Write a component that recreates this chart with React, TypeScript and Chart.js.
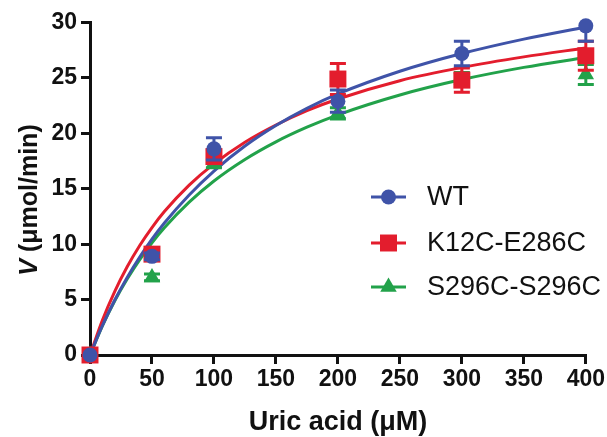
import React, { useEffect, useRef } from 'react';
import { Chart, registerables } from 'chart.js';

Chart.register(...registerables);

// Measured data (Uric acid µM vs V µmol/min)
const concentrations = [0, 50, 100, 200, 300, 400];
const wtValues = [0, 8.9, 18.6, 22.9, 27.2, 29.7];
const wtErrors = [0, 0.3, 1.0, 1.0, 1.1, 1.4];
const k12cValues = [0, 9.1, 17.9, 24.9, 24.8, 27.0];
const k12cErrors = [0, 0.3, 0.6, 1.4, 1.1, 1.3];
const s296cValues = [0, 7.0, 17.3, 21.8, 25.0, 25.3];
const s296cErrors = [0, 0.3, 0.4, 0.5, 0.5, 0.9];

// Fitted curves at sample concentrations
const fitX = [0, 10, 20, 30, 40, 50, 60, 80, 100, 125, 150, 175, 200, 250, 300, 350, 400];
const wtFit = [0, 2.64, 4.96, 7.0, 8.82, 10.45, 11.91, 14.44, 16.6, 18.85, 20.7, 22.25, 23.55, 25.6, 27.2, 28.5, 29.6];
const k12cFit = [0, 3.14, 5.75, 7.96, 9.86, 11.5, 12.94, 15.33, 17.25, 19.2, 20.75, 22.05, 23.1, 24.75, 25.95, 26.9, 27.7];
const s296cFit = [0, 2.63, 4.9, 6.86, 8.59, 10.12, 11.48, 13.79, 15.7, 17.64, 19.23, 20.55, 21.67, 23.46, 24.85, 25.95, 26.85];

const seriesNames = ['WT', 'K12C-E286C', 'S296C-S296C'];
const xTicks = [0, 50, 100, 150, 200, 250, 300, 350, 400];
const yTicks = [0, 5, 10, 15, 20, 25, 30];

const BLUE = '#3f53a8';
const RED = '#e31d2d';
const GREEN = '#22a24a';
const colors = [BLUE, RED, GREEN];
const shapes = ['circle', 'rect', 'triangle'];
const radii = [7.5, 12, 9.5];

const FONT = '"Liberation Sans", Arial, Helvetica, sans-serif';

function drawMarker(ctx: CanvasRenderingContext2D, shape: string, x: number, y: number, r: number, color: string) {
  ctx.save();
  ctx.fillStyle = color;
  ctx.beginPath();
  if (shape === 'circle') {
    ctx.arc(x, y, r, 0, Math.PI * 2);
  } else if (shape === 'rect') {
    const s = Math.SQRT1_2 * r;
    ctx.rect(x - s, y - s, 2 * s, 2 * s);
  } else {
    for (let k = 0; k < 3; k++) {
      const a = (k * 2 * Math.PI) / 3;
      const px = x + Math.sin(a) * r;
      const py = y - Math.cos(a) * r;
      if (k === 0) ctx.moveTo(px, py);
      else ctx.lineTo(px, py);
    }
    ctx.closePath();
  }
  ctx.fill();
  ctx.restore();
}

const errorBarPlugin = {
  id: 'errorBars',
  beforeDatasetDraw(chart: any, args: any) {
    const ds = chart.data.datasets[args.index];
    if (!ds.errors) return;
    const xs = chart.scales.x;
    const ys = chart.scales.y;
    const ctx = chart.ctx;
    const area = chart.chartArea;
    ctx.save();
    ctx.beginPath();
    ctx.rect(area.left - 20, area.top, area.right - area.left + 40, area.bottom - area.top);
    ctx.clip();
    ctx.strokeStyle = ds.backgroundColor;
    ctx.lineWidth = 3;
    ds.data.forEach((p: any, i: number) => {
      const e = ds.errors[i];
      if (!e) return;
      const px = xs.getPixelForValue(p.x);
      const top = ys.getPixelForValue(p.y + e);
      const bot = ys.getPixelForValue(p.y - e);
      ctx.beginPath();
      ctx.moveTo(px, top);
      ctx.lineTo(px, bot);
      ctx.moveTo(px - 8, top);
      ctx.lineTo(px + 8, top);
      ctx.moveTo(px - 8, bot);
      ctx.lineTo(px + 8, bot);
      ctx.stroke();
    });
    ctx.restore();
  },
};

const annotationPlugin = {
  id: 'annotations',
  afterDraw(chart: any) {
    const ctx = chart.ctx as CanvasRenderingContext2D;
    ctx.save();
    // Legend
    const legendY = [197, 243, 287];
    seriesNames.forEach((name, i) => {
      const y = legendY[i];
      ctx.strokeStyle = colors[i];
      ctx.lineWidth = 3;
      ctx.beginPath();
      ctx.moveTo(371, y);
      ctx.lineTo(406, y);
      ctx.stroke();
      drawMarker(ctx, shapes[i], 388.5, y, radii[i], colors[i]);
      ctx.fillStyle = '#111';
      ctx.font = `27px ${FONT}`;
      ctx.textBaseline = 'middle';
      ctx.textAlign = 'left';
      ctx.fillText(name, 427, y + 1);
    });
    // X axis title
    ctx.fillStyle = '#111';
    ctx.font = `bold 27px ${FONT}`;
    ctx.textAlign = 'center';
    ctx.textBaseline = 'alphabetic';
    ctx.fillText('Uric acid (\u03bcM)', 338, 430);
    // Y axis title with italic V
    ctx.translate(37, 200);
    ctx.rotate(-Math.PI / 2);
    const partV = 'V';
    const rest = ' (\u03bcmol/min)';
    ctx.font = `italic bold 25px ${FONT}`;
    const wV = ctx.measureText(partV).width;
    ctx.font = `bold 25px ${FONT}`;
    const wR = ctx.measureText(rest).width;
    const start = -(wV + wR) / 2;
    ctx.textAlign = 'left';
    ctx.font = `italic bold 25px ${FONT}`;
    ctx.fillText(partV, start, 0);
    ctx.font = `bold 25px ${FONT}`;
    ctx.fillText(rest, start + wV, 0);
    ctx.restore();
  },
};

function pts(xs: number[], ys: number[]) {
  return xs.map((x, i) => ({ x, y: ys[i] }));
}

export default function App() {
  const canvasRef = useRef<HTMLCanvasElement>(null);

  useEffect(() => {
    if (!canvasRef.current) return;
    const valueSets = [wtValues, k12cValues, s296cValues];
    const errorSets = [wtErrors, k12cErrors, s296cErrors];
    const fitSets = [wtFit, k12cFit, s296cFit];

    const pointDatasets = seriesNames.map((name, i) => ({
      label: name,
      data: pts(concentrations, valueSets[i]),
      errors: errorSets[i],
      backgroundColor: colors[i],
      borderColor: colors[i],
      pointStyle: shapes[i],
      pointRadius: radii[i],
      pointBorderWidth: 0,
      showLine: false,
      clip: false,
    }));
    const curveDatasets = seriesNames.map((name, i) => ({
      label: name + ' fit',
      data: pts(fitX, fitSets[i]),
      borderColor: colors[i],
      backgroundColor: colors[i],
      borderWidth: 3,
      pointRadius: 0,
      showLine: true,
      cubicInterpolationMode: 'monotone',
      clip: false,
    }));

    const chart = new Chart(canvasRef.current, {
      type: 'scatter',
      data: { datasets: [...pointDatasets, ...curveDatasets] as any },
      options: {
        responsive: false,
        animation: false,
        events: [],
        layout: { padding: { left: 0, top: 22.5, right: 20, bottom: 0 } },
        plugins: { legend: { display: false }, tooltip: { enabled: false } },
        scales: {
          x: {
            type: 'linear',
            min: 0,
            max: 400,
            afterFit: (s: any) => { s.height = 82; },
            afterBuildTicks: (s: any) => { s.ticks = xTicks.map((v) => ({ value: v })); },
            ticks: { color: '#111', font: { family: FONT, size: 23, weight: 'bold' }, padding: 2 },
            grid: { drawOnChartArea: false, drawTicks: true, tickLength: 9, lineWidth: 3, color: '#111' },
            border: { color: '#111', width: 3 },
          },
          y: {
            type: 'linear',
            min: 0,
            max: 30,
            afterFit: (s: any) => { s.width = 90; },
            afterBuildTicks: (s: any) => { s.ticks = yTicks.map((v) => ({ value: v })); },
            ticks: { color: '#111', font: { family: FONT, size: 23, weight: 'bold' }, padding: 4 },
            grid: { drawOnChartArea: false, drawTicks: true, tickLength: 9, lineWidth: 3, color: '#111' },
            border: { color: '#111', width: 3 },
          },
        },
      },
      plugins: [errorBarPlugin, annotationPlugin],
    } as any);
    return () => chart.destroy();
  }, []);

  return (
    <div style={{ position: 'fixed', left: 0, top: 0, width: 607, height: 437, background: '#fff' }}>
      <canvas ref={canvasRef} width={607} height={437} style={{ display: 'block' }} />
    </div>
  );
}
